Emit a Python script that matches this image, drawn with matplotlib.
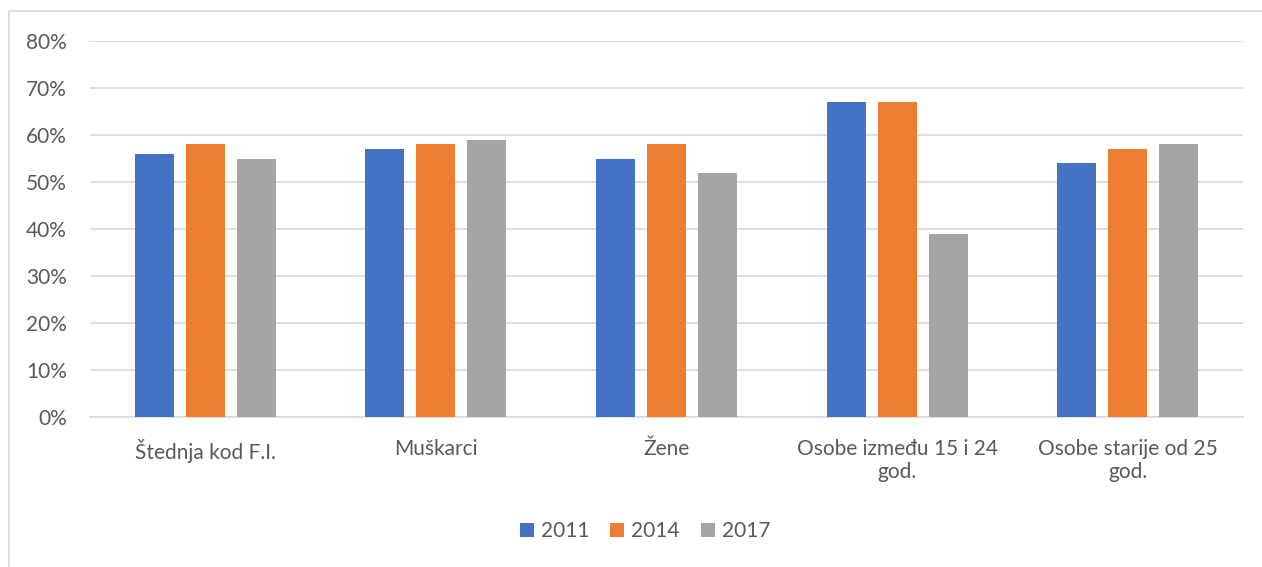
import numpy as np
import matplotlib.pyplot as plt
from matplotlib.lines import Line2D
from matplotlib.ticker import FuncFormatter

kategorije = ['Štednja kod F.I.', 'Muškarci', 'Žene',
              'Osobe između 15 i 24\ngod.', 'Osobe starije od 25\ngod.']
godine = ['2011', '2014', '2017']
v2011 = [56, 57, 55, 67, 54]
v2014 = [58, 58, 58, 67, 57]
v2017 = [55, 59, 52, 39, 58]
boje = ['#4472C4', '#ED7D31', '#A5A5A5']

plt.rcParams['font.family'] = ['Lato', 'DejaVu Sans']
tekst = '#595959'
fs = 15

fig = plt.figure(figsize=(12.62, 5.67), dpi=100)
ax = fig.add_axes([90 / 1262, 1 - 417 / 567, (1243 - 90) / 1262, (417 - 41) / 567])

x = np.arange(len(kategorije))
sirina = 0.169
pomak = 0.221
for i, (vals, g) in enumerate(zip([v2011, v2014, v2017], godine)):
    ax.bar(x + (i - 1) * pomak, vals, sirina, color=boje[i], label=g, zorder=3)

ax.set_xlim(-0.5, len(kategorije) - 0.5)
ax.set_ylim(0, 80)
ax.set_yticks(np.arange(0, 81, 10))
ax.yaxis.set_major_formatter(FuncFormatter(lambda v, p: '{:.0f}%'.format(v)))
ax.set_xticks(x)
ax.set_xticklabels(kategorije, fontsize=fs, color=tekst, linespacing=1.2)
ax.tick_params(axis='y', labelsize=fs, labelcolor=tekst, length=0, pad=16.5)
ax.tick_params(axis='x', length=0, pad=16)
ax.grid(axis='y', color='#D9D9D9', linewidth=1.2, zorder=0)
for s in ['top', 'right', 'left']:
    ax.spines[s].set_visible(False)
ax.spines['bottom'].set_color('#D9D9D9')
ax.spines['bottom'].set_linewidth(1.2)

leg = fig.legend(loc='center', bbox_to_anchor=(645 / 1262, 1 - 531 / 567), ncol=3, frameon=False,
                 fontsize=fs, handlelength=0.67, handleheight=0.67, handletextpad=0.35,
                 columnspacing=1.0)
for t in leg.get_texts():
    t.set_color(tekst)

# okvir grafikona
fig.add_artist(Line2D([9 / 1262, 9 / 1262, 1.0], [0.0, 1 - 11 / 567, 1 - 11 / 567],
                      transform=fig.transFigure, color='#D9D9D9', linewidth=1.2))

fig.savefig('out.png', dpi=100)
